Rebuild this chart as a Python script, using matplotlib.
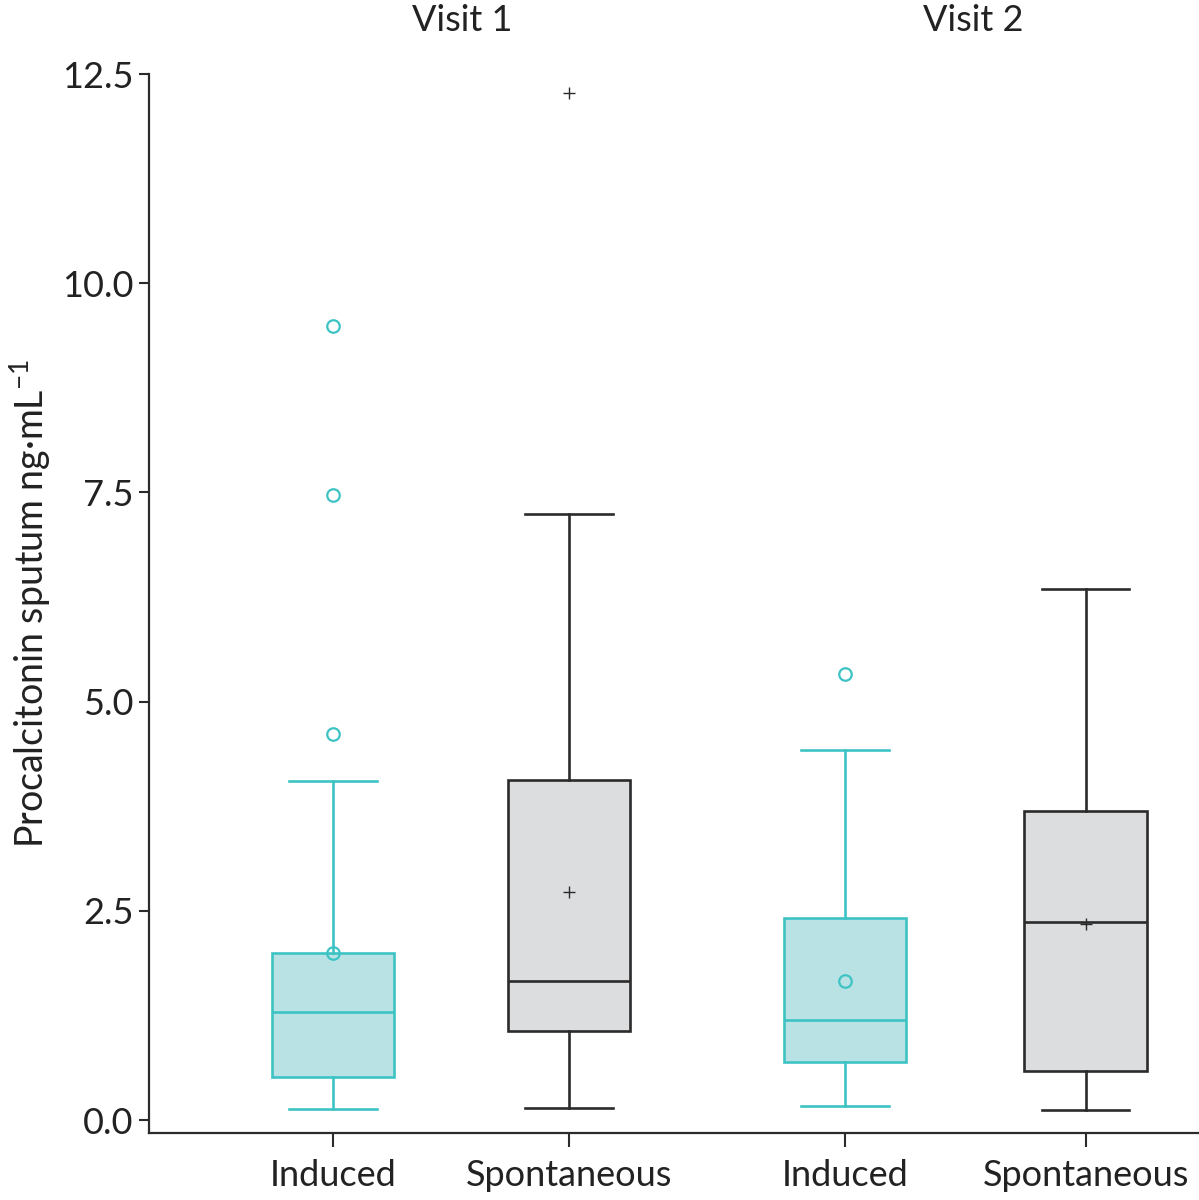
import matplotlib
matplotlib.use('Agg')
import matplotlib.pyplot as plt

plt.rcParams['font.family'] = ['Lato', 'DejaVu Sans']
plt.rcParams['mathtext.fontset'] = 'custom'
plt.rcParams['mathtext.rm'] = 'Lato'
plt.rcParams['mathtext.it'] = 'Lato:italic'

# values (ng/mL)
groups = ['Visit 1', 'Visit 2']
labels = ['Induced', 'Spontaneous', 'Induced', 'Spontaneous']
positions = [1, 2, 3.17, 4.19]
whislo = [0.13, 0.14, 0.17, 0.12]
q1 = [0.51, 1.06, 0.69, 0.59]
med = [1.29, 1.66, 1.20, 2.37]
q3 = [2.00, 4.06, 2.41, 3.69]
whishi = [4.05, 7.24, 4.42, 6.35]
means = [2.00, 2.72, 1.66, 2.34]
fliers = [[4.61, 7.47, 9.49], [12.27], [5.33], []]

TEAL = '#3ec3c4'
TEAL_FILL = '#b9e2e5'
DARK = '#2b2b2b'
GRAY_FILL = '#dcdddf'
FS = 26

fig = plt.figure(figsize=(11.99, 12), dpi=100)
ax = fig.add_axes([0.1243, 0.0558, 0.8757, 0.8825])

for i in range(4):
    st = [dict(whislo=whislo[i], q1=q1[i], med=med[i], q3=q3[i],
               whishi=whishi[i], mean=means[i], fliers=fliers[i])]
    induced = labels[i] == 'Induced'
    c = TEAL if induced else DARK
    fill = TEAL_FILL if induced else GRAY_FILL
    mk = 'o' if induced else '+'
    ax.bxp(st, positions=[positions[i]], widths=0.52, patch_artist=True,
           showmeans=True, showfliers=True,
           boxprops=dict(facecolor=fill, edgecolor=c, linewidth=1.9),
           medianprops=dict(color=c, linewidth=1.9),
           whiskerprops=dict(color=c, linewidth=1.9),
           capprops=dict(color=c, linewidth=1.9),
           capwidths=0.37,
           meanprops=dict(marker=mk, markerfacecolor='none', markeredgecolor=c,
                          markersize=9 if induced else 8, markeredgewidth=1.6 if induced else 1.0),
           flierprops=dict(marker=mk, markerfacecolor='none', markeredgecolor=c,
                           markersize=9 if induced else 8, markeredgewidth=1.6 if induced else 1.0))

ax.set_xlim(0.22, 4.67)
ax.set_ylim(-0.155, 12.5)
ax.set_yticks([0, 2.5, 5, 7.5, 10, 12.5])
ax.set_yticklabels(['0.0', '2.5', '5.0', '7.5', '10.0', '12.5'])
ax.set_xticks(positions)
ax.set_xticklabels(labels)
ax.spines['top'].set_visible(False)
ax.spines['right'].set_visible(False)
ax.spines['left'].set_linewidth(1.6)
ax.spines['bottom'].set_linewidth(1.6)
ax.spines['left'].set_color(DARK)
ax.spines['bottom'].set_color(DARK)
ax.tick_params(axis='y', length=7, width=1.5, labelsize=FS, color=DARK, labelcolor='#222222', pad=4)
ax.tick_params(axis='x', length=10, width=1.5, labelsize=FS, color=DARK, labelcolor='#222222', pad=9)
ax.set_ylabel('Procalcitonin sputum ng·mL$^{-1}$', fontsize=FS + 1, color='#222222', labelpad=7)

ax.text(1.547, 1.051, groups[0], transform=ax.get_xaxis_transform(), ha='center', va='center', fontsize=FS, color='#222222')
ax.text(3.712, 1.051, groups[1], transform=ax.get_xaxis_transform(), ha='center', va='center', fontsize=FS, color='#222222')

fig.savefig('out.png', dpi=100)
